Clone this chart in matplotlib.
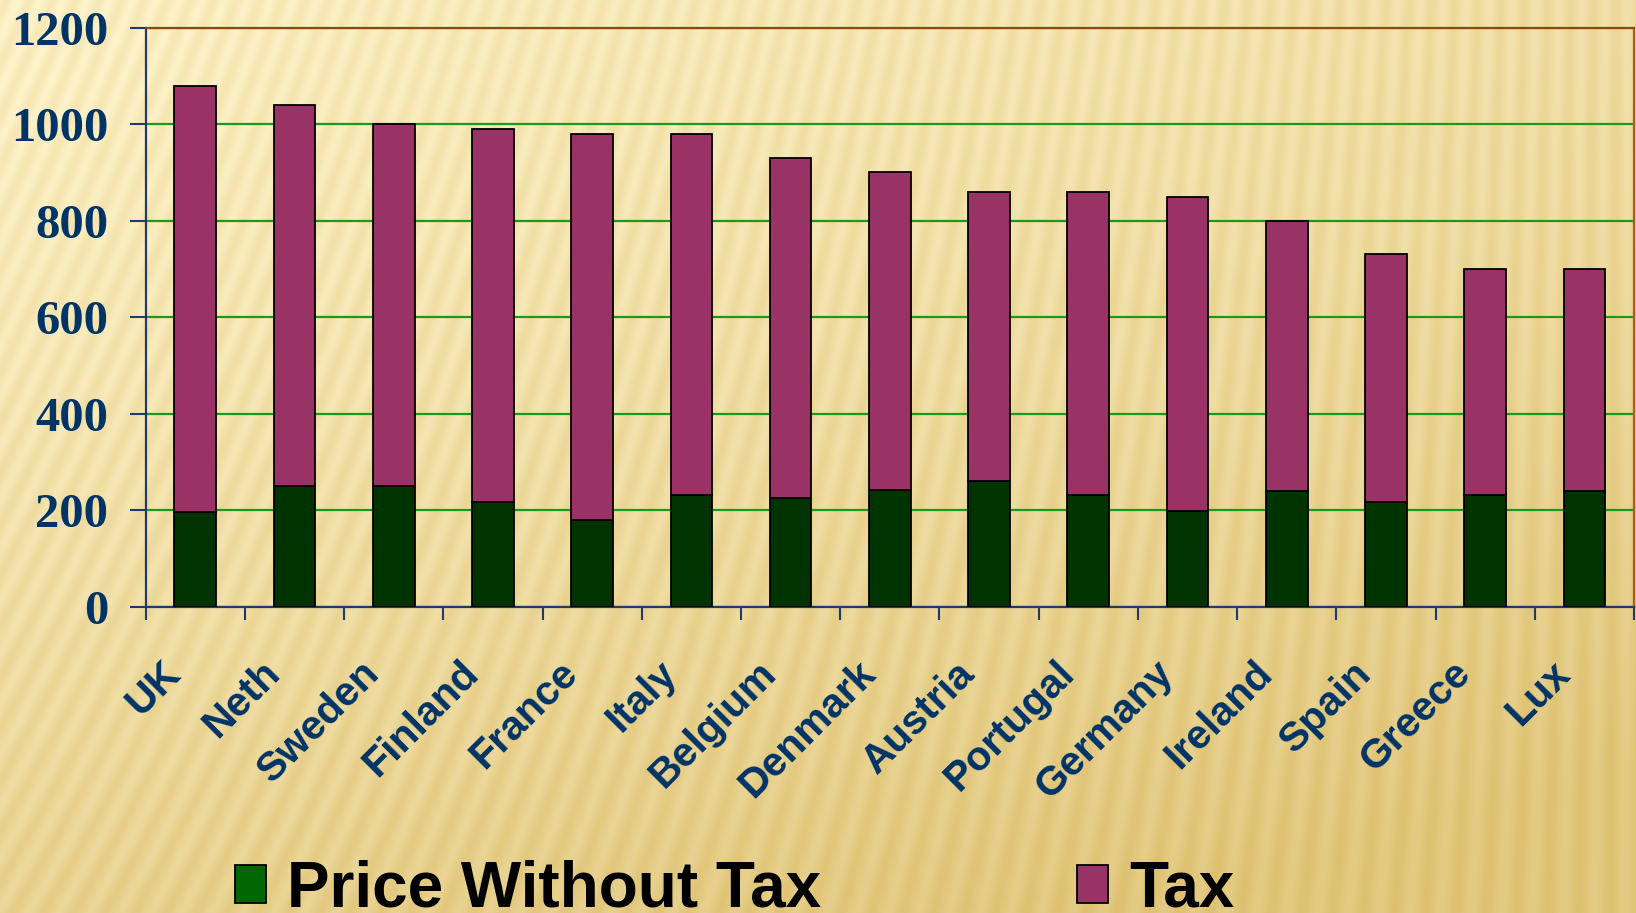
import matplotlib
matplotlib.use("Agg")
import matplotlib.pyplot as plt
import matplotlib.patches as mpatches
from matplotlib.transforms import ScaledTranslation
import numpy as np

# Data
countries = ["UK", "Neth", "Sweden", "Finland", "France", "Italy", "Belgium",
             "Denmark", "Austria", "Portugal", "Germany", "Ireland", "Spain",
             "Greece", "Lux"]
price_without_tax = [197, 250, 250, 218, 180, 231, 225, 241, 260, 232, 199, 240, 218, 232, 240]
tax = [883, 790, 750, 772, 800, 749, 705, 659, 600, 628, 651, 560, 512, 468, 460]
y_ticks = [0, 200, 400, 600, 800, 1000, 1200]
legend_labels = ["Price Without Tax", "Tax"]

# Colours
green_bar = "#003300"
green_legend = "#006600"
purple = "#993366"
navy = "#003366"
axis_blue = "#1F3B6B"
grid_green = "#1A9A1A"

W, H = 1636, 913
DPI = 100
fig = plt.figure(figsize=(W / DPI, H / DPI), dpi=DPI)

# Background: cream-to-gold gradient with soft slanted stripes
yy, xx = np.mgrid[0:H, 0:W].astype(float)
t = np.clip(0.45 * xx / W + 0.7 * (yy / H) ** 1.3, 0, 1)
light = np.array([254, 244, 204]) / 255.0
dark = np.array([228, 203, 132]) / 255.0
img = light[None, None, :] * (1 - t[..., None]) + dark[None, None, :] * t[..., None]
slant = 0.45 * (1 - xx / W)
phase = (xx + slant * yy) / 23.0 * 2 * np.pi
stripe = 0.5 + 0.5 * np.sin(phase)
img = img - (stripe * 0.05)[..., None] * np.array([0.5, 0.8, 1.5])[None, None, :]
img = np.clip(img, 0, 1)
bg = fig.add_axes([0, 0, 1, 1], zorder=-10)
bg.imshow(img, aspect="auto", interpolation="bilinear")
bg.axis("off")

# Main plot area
left, right = 145.7 / W, 1634 / W
top, bottom = 1 - 27.7 / H, 1 - 606.7 / H
ax = fig.add_axes([left, bottom, right - left, top - bottom])
ax.patch.set_alpha(0)

x = np.arange(len(countries))
ax.bar(x, price_without_tax, width=0.42, color=green_bar, edgecolor="black",
       linewidth=1.3, zorder=3)
ax.bar(x, tax, width=0.42, bottom=price_without_tax, color=purple,
       edgecolor="black", linewidth=1.3, zorder=3)

ax.set_xlim(-0.5, len(countries) - 0.5)
ax.set_ylim(0, 1200)
ax.yaxis.grid(True, color=grid_green, linewidth=1.6)
ax.set_axisbelow(True)

ax.spines["left"].set_color(axis_blue)
ax.spines["bottom"].set_color(axis_blue)
ax.spines["top"].set_color("#8B4A0A")
ax.spines["right"].set_color("#B5571E")
for s in ax.spines.values():
    s.set_linewidth(1.6)

ax.set_yticks(y_ticks)
ax.set_yticklabels([str(v) for v in y_ticks], fontfamily="Liberation Serif",
                   fontweight="bold", fontsize=35, color=navy)
ax.tick_params(axis="y", direction="out", length=11.3, width=1.5,
               color=axis_blue, pad=15.5)

ax.set_xticks(x)
ax.set_xticklabels(countries, rotation=45, ha="right", va="top",
                   rotation_mode="anchor", fontfamily="Liberation Sans",
                   fontweight="bold", fontsize=29.5, color=navy)
ax.tick_params(axis="x", which="major", length=0, pad=34)
ax.set_xticks(np.arange(-0.5, len(countries), 1), minor=True)
ax.tick_params(axis="x", which="minor", direction="out", length=9.1,
               width=1.5, color=axis_blue)
shift = ScaledTranslation(-34 / DPI, 0, fig.dpi_scale_trans)
for lbl in ax.get_xticklabels():
    lbl.set_transform(lbl.get_transform() + shift)

handles = [
    mpatches.Patch(facecolor=green_legend, edgecolor="black", linewidth=1.3),
    mpatches.Patch(facecolor=purple, edgecolor="black", linewidth=1.3),
]
fig.legend(handles=handles, labels=legend_labels, loc="lower left",
           bbox_to_anchor=(235 / W, -0.007), ncol=2, frameon=False,
           prop=dict(family="Liberation Sans", weight="bold", size=46),
           handlelength=0.49, handleheight=0.53, handletextpad=0.33,
           columnspacing=4.0, borderpad=0, borderaxespad=0)

fig.savefig("out.png", dpi=DPI)
